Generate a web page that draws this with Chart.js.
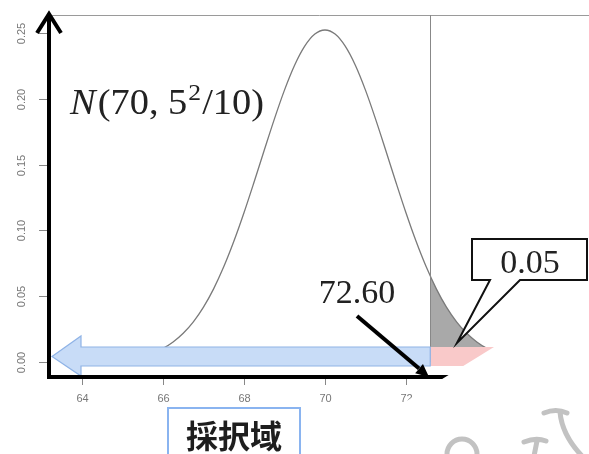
<!DOCTYPE html>
<html>
<head>
<meta charset="utf-8">
<script src="https://cdn.jsdelivr.net/npm/chart.js@4/dist/chart.umd.min.js"></script>
<style>
html, body { margin: 0; padding: 0; background: #fff; }
#wrap { width: 589px; height: 454px; }
</style>
</head>
<body>
<div id="wrap"><canvas id="normalChart" width="589" height="454"></canvas></div>
<script>
// 密度曲線 N(70, 5^2/10) を図から読み取った値
const curveX = [63.5, 64, 64.5, 65, 65.25, 65.5, 65.75, 66, 66.25, 66.5, 66.75, 67, 67.25, 67.5, 67.75,
    68, 68.25, 68.5, 68.75, 69, 69.25, 69.5, 69.75, 70, 70.25, 70.5, 70.75, 71, 71.25, 71.5, 71.75,
    72, 72.25, 72.5, 72.75, 73, 73.25, 73.5, 73.75, 74, 74.25, 74.5, 74.75, 75, 75.5, 76, 76.5];
const curveY = [0.0001, 0.0002, 0.0006, 0.0017, 0.0028, 0.0044, 0.0068, 0.0103, 0.0152, 0.0218, 0.0305, 0.0417, 0.0556, 0.0723, 0.0917,
    0.1134, 0.1368, 0.1609, 0.1846, 0.2066, 0.2255, 0.2400, 0.2492, 0.2523, 0.2492, 0.2400, 0.2255, 0.2066, 0.1846, 0.1609, 0.1368,
    0.1134, 0.0917, 0.0723, 0.0556, 0.0417, 0.0305, 0.0218, 0.0152, 0.0103, 0.0068, 0.0044, 0.0028, 0.0017, 0.0006, 0.0002, 0.0001];

// 棄却域(上側 5%)
const tailX = [72.6, 72.75, 73, 73.25, 73.5, 73.75, 74, 74.25, 74.5, 74.75, 75, 75.5, 76, 76.5];
const tailY = [0.0653, 0.0556, 0.0417, 0.0305, 0.0218, 0.0152, 0.0103, 0.0068, 0.0044, 0.0028, 0.0017, 0.0006, 0.0002, 0.0001];

const xTicks = [64, 66, 68, 70, 72];
const yTicks = [0, 0.05, 0.10, 0.15, 0.20, 0.25];
const yTickLabels = ['0.00', '0.05', '0.10', '0.15', '0.20', '0.25'];
const criticalValue = 72.60;
const criticalLabel = '72.60';
const alphaLabel = '0.05';
const regionLabel = '採択域';

function toPoints(xs, ys) {
    return xs.map((x, i) => ({ x: x, y: ys[i] }));
}

function line(ctx, x1, y1, x2, y2) {
    ctx.beginPath();
    ctx.moveTo(x1, y1);
    ctx.lineTo(x2, y2);
    ctx.stroke();
}

// 数式ラベル N(70, 5^2/10) を幅に合わせて描く
function drawFormula(ctx, left, base, width) {
    const serif = '"Liberation Serif", "DejaVu Serif", serif';
    const parts = [
        { t: 'N', f: 'italic 36px ' + serif, dy: 0, gap: 2 },
        { t: '(70,', f: '36px ' + serif, dy: 0, gap: 9 },
        { t: '5', f: '36px ' + serif, dy: 0, gap: 1 },
        { t: '2', f: '24px ' + serif, dy: -14, gap: 1 },
        { t: '/10)', f: '36px ' + serif, dy: 0, gap: 0 }
    ];
    let total = 0;
    parts.forEach(p => { ctx.font = p.f; p.w = ctx.measureText(p.t).width; total += p.w + p.gap; });
    ctx.save();
    ctx.translate(left, base);
    ctx.scale(width / total, 1);
    let x = 0;
    parts.forEach(p => {
        ctx.font = p.f;
        ctx.fillText(p.t, x, p.dy);
        x += p.w + p.gap;
    });
    ctx.restore();
}

const overlay = {
    id: 'overlay',
    afterDatasetsDraw(chart) {
        const ctx = chart.ctx;
        const area = chart.chartArea;
        const px = v => chart.scales.x.getPixelForValue(v);
        const py = v => chart.scales.y.getPixelForValue(v);
        const y0 = py(0);
        const xc = px(criticalValue);

        ctx.save();

        // 枠の上辺と棄却限界の縦線
        ctx.strokeStyle = '#9a9a9a';
        ctx.lineWidth = 1;
        line(ctx, area.left, area.top + 0.5, area.right, area.top + 0.5);
        ctx.strokeStyle = '#888';
        line(ctx, Math.round(xc) + 0.5, area.top, Math.round(xc) + 0.5, y0);

        // 目盛り
        ctx.strokeStyle = '#888';
        ctx.fillStyle = '#777';
        ctx.font = '11px "Liberation Sans", Arial, sans-serif';
        ctx.textAlign = 'center';
        ctx.textBaseline = 'middle';
        yTicks.forEach((v, i) => {
            const y = Math.round(py(v)) + 0.5;
            line(ctx, 39, y, 47, y);
            ctx.save();
            ctx.translate(22, y);
            ctx.rotate(-Math.PI / 2);
            ctx.fillText(yTickLabels[i], 0, 0);
            ctx.restore();
        });
        xTicks.forEach(v => {
            const x = Math.round(px(v)) + 0.5;
            line(ctx, x, 379, x, 385);
            ctx.fillText(String(v), x, 399);
        });

        // 採択域の矢印(青)と棄却域の帯(赤)
        ctx.fillStyle = '#f9c9c9';
        ctx.fillRect(xc, 347, 66, 19);
        ctx.beginPath();
        ctx.moveTo(xc, 347);
        ctx.lineTo(81, 347);
        ctx.lineTo(81, 336);
        ctx.lineTo(52, 356.5);
        ctx.lineTo(81, 376);
        ctx.lineTo(81, 366);
        ctx.lineTo(xc, 366);
        ctx.closePath();
        ctx.fillStyle = '#c8dcf7';
        ctx.fill();
        ctx.strokeStyle = '#8fb3e6';
        ctx.lineWidth = 1.2;
        ctx.stroke();

        // 黒い座標軸
        ctx.strokeStyle = '#000';
        ctx.lineWidth = 4;
        ctx.lineCap = 'butt';
        line(ctx, 47, 377, 450, 377);
        line(ctx, 49, 379, 49, 16);
        ctx.lineJoin = 'miter';
        ctx.beginPath();
        ctx.moveTo(37, 33);
        ctx.lineTo(49, 14);
        ctx.lineTo(61, 33);
        ctx.stroke();

        // 72.60 を指す矢印
        const tipX = 429, tipY = 377;
        const sx = 357, sy = 316;
        const ang = Math.atan2(tipY - sy, tipX - sx);
        const hl = 13, hw = 6;
        const bx = tipX - hl * Math.cos(ang), by = tipY - hl * Math.sin(ang);
        line(ctx, sx, sy, bx, by);
        ctx.beginPath();
        ctx.moveTo(tipX, tipY);
        ctx.lineTo(bx + hw * Math.sin(ang), by - hw * Math.cos(ang));
        ctx.lineTo(bx - hw * Math.sin(ang), by + hw * Math.cos(ang));
        ctx.closePath();
        ctx.fillStyle = '#000';
        ctx.fill();

        // 右下を覆う白い図形
        ctx.beginPath();
        ctx.moveTo(600, 347);
        ctx.lineTo(494, 347);
        ctx.lineTo(494 - 1.62 * 107, 454);
        ctx.lineTo(600, 454);
        ctx.closePath();
        ctx.fillStyle = '#fff';
        ctx.fill();

        // N(70, 5^2/10)
        ctx.fillStyle = '#222';
        ctx.textAlign = 'left';
        ctx.textBaseline = 'alphabetic';
        drawFormula(ctx, 70, 114, 194);

        // 72.60
        ctx.textAlign = 'center';
        ctx.font = '34px "Liberation Serif", "DejaVu Serif", serif';
        ctx.fillText(criticalLabel, 357, 303);

        // 0.05 の吹き出し
        ctx.beginPath();
        ctx.moveTo(472, 239);
        ctx.lineTo(587, 239);
        ctx.lineTo(587, 280);
        ctx.lineTo(520, 280);
        ctx.lineTo(457, 343);
        ctx.lineTo(490, 280);
        ctx.lineTo(472, 280);
        ctx.closePath();
        ctx.fillStyle = '#fff';
        ctx.fill();
        ctx.strokeStyle = '#111';
        ctx.lineWidth = 2;
        ctx.stroke();
        ctx.fillStyle = '#222';
        ctx.fillText(alphaLabel, 530, 273);

        // 採択域 のラベル
        ctx.strokeStyle = '#8ab4f0';
        ctx.lineWidth = 2;
        ctx.strokeRect(168, 408, 132, 60);
        ctx.fillStyle = '#1e1e1e';
        ctx.font = 'bold 32px "Noto Sans CJK JP", sans-serif';
        ctx.textBaseline = 'middle';
        ctx.fillText(regionLabel, 234, 436);

        // 透かし
        ctx.strokeStyle = '#c2c2c2';
        ctx.lineWidth = 5;
        ctx.lineCap = 'round';
        ctx.beginPath();
        ctx.arc(462, 454, 15, Math.PI, 2 * Math.PI);
        ctx.stroke();
        ctx.beginPath();
        ctx.moveTo(524, 442);
        ctx.quadraticCurveTo(536, 437, 546, 441);
        ctx.moveTo(537, 441);
        ctx.lineTo(534, 456);
        ctx.stroke();
        ctx.beginPath();
        ctx.moveTo(544, 413);
        ctx.quadraticCurveTo(556, 408, 567, 413);
        ctx.moveTo(560, 412);
        ctx.quadraticCurveTo(562, 435, 582, 456);
        ctx.stroke();

        ctx.restore();
    }
};

new Chart(document.getElementById('normalChart'), {
    type: 'line',
    data: {
        datasets: [{
            data: toPoints(curveX, curveY),
            borderColor: '#7a7a7a',
            borderWidth: 1.3,
            pointRadius: 0,
            cubicInterpolationMode: 'monotone',
            fill: false
        }, {
            data: toPoints(tailX, tailY),
            borderWidth: 0,
            borderColor: 'rgba(0,0,0,0)',
            backgroundColor: '#a9a9a9',
            pointRadius: 0,
            cubicInterpolationMode: 'monotone',
            fill: 'origin'
        }]
    },
    options: {
        responsive: false,
        animation: false,
        layout: { padding: { left: 50, top: 15, right: 0, bottom: 77 } },
        scales: {
            x: { type: 'linear', min: 63.21, max: 76.52, display: false },
            y: { type: 'linear', min: -0.0114, max: 0.2637, display: false }
        },
        plugins: {
            legend: { display: false },
            tooltip: { enabled: false }
        }
    },
    plugins: [overlay]
});
</script>
</body>
</html>
